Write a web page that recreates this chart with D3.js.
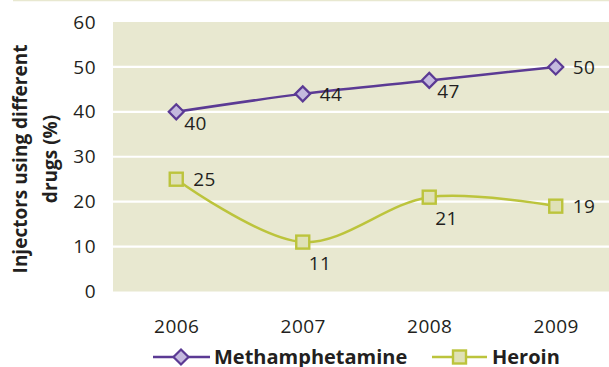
<!DOCTYPE html>
<html>
<head>
<meta charset="utf-8">
<script src="https://cdn.jsdelivr.net/npm/d3@7"></script>
<style>
  body { margin: 0; background: #fff; }
  svg text { font-family: "Open Sans", "Noto Sans", sans-serif; fill: #231f20; }
</style>
</head>
<body>
<div id="chart"></div>
<script>
// chart data
const years = ["2006", "2007", "2008", "2009"];
const methValues = [40, 44, 47, 50];
const heroinValues = [25, 11, 21, 19];
const yTicks = [0, 10, 20, 30, 40, 50, 60];
const seriesNames = ["Methamphetamine", "Heroin"];

const width = 609, height = 367;
const margin = { top: 22, right: -10, bottom: 76, left: 113 };

const svg = d3.select("#chart").append("svg")
  .attr("width", width)
  .attr("height", height);

// thin rule along the very top
svg.append("line")
  .attr("x1", 13).attr("x2", width)
  .attr("y1", 0.5).attr("y2", 0.5)
  .attr("stroke", "#e8e8d0")
  .attr("stroke-width", 1.5);

const x = d3.scalePoint()
  .domain(years)
  .range([margin.left, width - margin.right])
  .padding(0.5);

const y = d3.scaleLinear()
  .domain([0, 60])
  .range([height - margin.bottom + 0.5, margin.top]);

// plot background
svg.append("rect")
  .attr("x", margin.left)
  .attr("y", margin.top)
  .attr("width", width - margin.left)
  .attr("height", y(0) - margin.top)
  .attr("fill", "#e8e8d0");

// white gridlines
svg.append("g")
  .selectAll("line")
  .data(yTicks.filter(d => d > 0 && d < 60))
  .join("line")
  .attr("x1", margin.left)
  .attr("x2", width)
  .attr("y1", d => y(d))
  .attr("y2", d => y(d))
  .attr("stroke", "#fff")
  .attr("stroke-width", 2.2);

// y axis labels
const yAxis = svg.append("g")
  .attr("transform", `translate(${margin.left - 17},0)`)
  .call(d3.axisLeft(y).tickValues(yTicks).tickSize(0).tickPadding(0));
yAxis.select(".domain").remove();
yAxis.selectAll("text")
  .style("font-size", "19px")
  .style("letter-spacing", "0.5px")
  .attr("fill", "#231f20");

// x axis labels
const xAxis = svg.append("g")
  .attr("transform", `translate(0,${y(0) + 28})`)
  .call(d3.axisBottom(x).tickSize(0).tickPadding(0));
xAxis.select(".domain").remove();
xAxis.selectAll("text")
  .style("font-size", "19px")
  .style("letter-spacing", "0.5px")
  .attr("fill", "#231f20");

// y axis title, two lines
const title = svg.append("text")
  .attr("transform", `translate(27,159) rotate(-90)`)
  .attr("text-anchor", "middle")
  .style("font-size", "19px")
  .style("font-weight", "bold");
title.append("tspan").attr("x", 0).attr("dy", 0).text("Injectors using different");
title.append("tspan").attr("x", 0).attr("dy", 30).text("drugs (%)");

const line = d3.line()
  .x((d, i) => x(years[i]))
  .y(d => y(d))
  .curve(d3.curveCatmullRom.alpha(0.5));

const purple = "#5b3a94", purpleFill = "#c4b9de";
const green = "#bcc43c", greenFill = "#dfe1b6";

// methamphetamine series
svg.append("path")
  .datum(methValues)
  .attr("d", line)
  .attr("fill", "none")
  .attr("stroke", purple)
  .attr("stroke-width", 2.5);

// heroin series
svg.append("path")
  .datum(heroinValues)
  .attr("d", line)
  .attr("fill", "none")
  .attr("stroke", green)
  .attr("stroke-width", 2.5);

const diamond = (cx, cy, r) =>
  `M${cx},${cy - r}L${cx + r},${cy}L${cx},${cy + r}L${cx - r},${cy}Z`;

svg.append("g")
  .selectAll("path")
  .data(methValues)
  .join("path")
  .attr("d", (d, i) => diamond(x(years[i]), y(d), 7.5))
  .attr("fill", purpleFill)
  .attr("stroke", purple)
  .attr("stroke-width", 2.2);

svg.append("g")
  .selectAll("rect")
  .data(heroinValues)
  .join("rect")
  .attr("x", (d, i) => x(years[i]) - 6.5)
  .attr("y", d => y(d) - 6.5)
  .attr("width", 13)
  .attr("height", 13)
  .attr("fill", greenFill)
  .attr("stroke", green)
  .attr("stroke-width", 2.4);

// value label placement: "r" right of point, "b" just below, "B" further below
const offsets = { r: [17, 7], b: [8, 18], B: [6, 28] };
const methPos = ["b", "r", "b", "r"];
const heroinPos = ["r", "B", "B", "r"];

function addLabels(values, pos) {
  svg.append("g")
    .selectAll("text")
    .data(values)
    .join("text")
    .attr("x", (d, i) => x(years[i]) + offsets[pos[i]][0])
    .attr("y", (d, i) => y(d) + offsets[pos[i]][1])
    .style("font-size", "19px")
    .style("letter-spacing", "0.5px")
    .text(d => d);
}
addLabels(methValues, methPos);
addLabels(heroinValues, heroinPos);

// legend
const legendY = 357;
const legend = svg.append("g");

legend.append("line")
  .attr("x1", 153).attr("x2", 210)
  .attr("y1", legendY).attr("y2", legendY)
  .attr("stroke", purple).attr("stroke-width", 2.5);
legend.append("path")
  .attr("d", diamond(181, legendY, 7.5))
  .attr("fill", purpleFill)
  .attr("stroke", purple)
  .attr("stroke-width", 2.2);
legend.append("text")
  .attr("x", 214).attr("y", legendY + 7)
  .style("font-size", "20px")
  .style("font-weight", "bold")
  .text(seriesNames[0]);

legend.append("line")
  .attr("x1", 432).attr("x2", 487)
  .attr("y1", legendY).attr("y2", legendY)
  .attr("stroke", green).attr("stroke-width", 2.5);
legend.append("rect")
  .attr("x", 453).attr("y", legendY - 6.5)
  .attr("width", 13).attr("height", 13)
  .attr("fill", greenFill)
  .attr("stroke", green)
  .attr("stroke-width", 2.4);
legend.append("text")
  .attr("x", 492).attr("y", legendY + 7)
  .style("font-size", "20px")
  .style("font-weight", "bold")
  .text(seriesNames[1]);
</script>
</body>
</html>
